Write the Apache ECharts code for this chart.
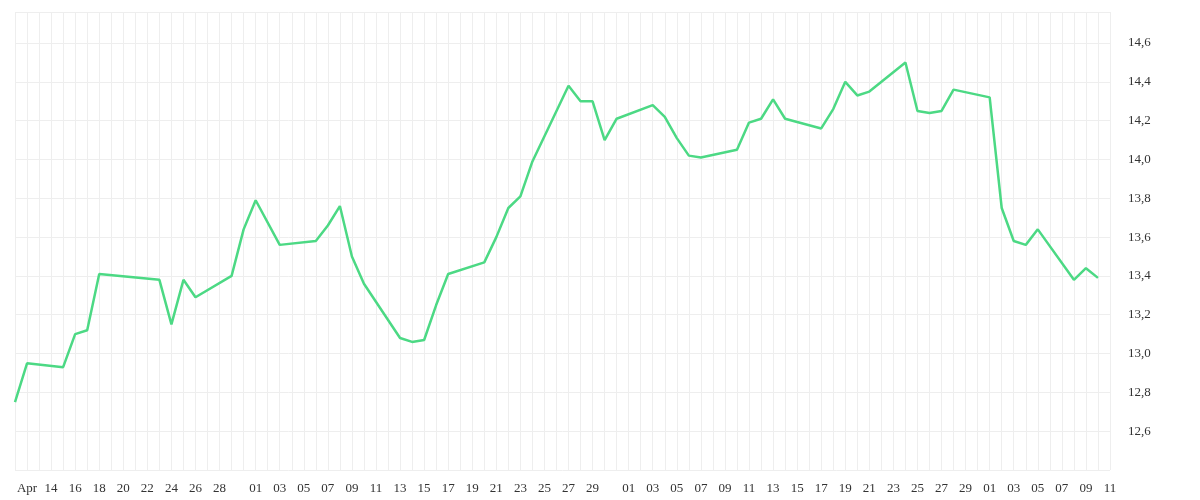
<!DOCTYPE html>
<html><head><meta charset="utf-8">
<script src="https://cdn.jsdelivr.net/npm/echarts@6/dist/echarts.min.js"></script>
<style>html,body{margin:0;background:#fff}#c{width:1200px;height:500px}</style>
</head><body><div id="c"></div>
<script>
// day indices from 11 Apr and values
const pointDays = [0,1,4,5,6,7,12,13,14,15,18,19,20,22,25,26,27,28,29,32,33,34,35,36,39,40,41,42,43,46,47,48,49,50,53,54,55,56,57,60,61,62,63,64,67,68,69,70,71,74,75,76,77,78,81,82,83,84,85,88,89,90];
const pointValues = [12.75,12.95,12.93,13.10,13.12,13.41,13.38,13.15,13.38,13.29,13.40,13.64,13.79,13.56,13.58,13.66,13.76,13.50,13.36,13.08,13.06,13.07,13.25,13.41,13.47,13.60,13.75,13.81,13.99,14.38,14.30,14.30,14.10,14.21,14.28,14.22,14.11,14.02,14.01,14.05,14.19,14.21,14.31,14.21,14.16,14.26,14.40,14.33,14.35,14.50,14.25,14.24,14.25,14.36,14.32,13.75,13.58,13.56,13.64,13.38,13.44,13.39];
const startDate = new Date(2022,3,11);
const nDays = 92;
const categories = [];
for (let i=0;i<nDays;i++){const d=new Date(startDate);d.setDate(d.getDate()+i);categories.push(d);}
const values = new Array(nDays).fill(null);
pointDays.forEach((d,i)=>values[d]=pointValues[i]);
function showLabel(i){
  const d=categories[i], day=d.getDate(), m=d.getMonth();
  if(i===0||i===1) return true;
  if(m===3) return day%2===0 && day<30;
  if(m===4) return day%2===1 && day<31;
  return day%2===1;
}
const chart = echarts.init(document.getElementById('c'));
chart.setOption({
  animation:false,
  grid:{left:15,right:90,top:12,bottom:30},
  xAxis:{type:'category',data:categories.map((d,i)=>i),boundaryGap:false,
    axisLine:{show:false},axisTick:{show:false},
    splitLine:{show:true,interval:0,lineStyle:{color:'#eeeeee'}},
    axisLabel:{interval:(i)=>showLabel(i),fontFamily:'Liberation Serif',fontSize:13,color:'#333',margin:12,
      formatter:(v,i)=>{const d=categories[i]; if(i===1) return 'Apr'; return String(d.getDate()).padStart(2,'0');}}},
  yAxis:{type:'value',position:'right',min:12.4,max:14.76,interval:0.2,
    axisLine:{show:false},axisTick:{show:false},
    splitLine:{lineStyle:{color:'#eeeeee'}},
    axisLabel:{showMinLabel:false,showMaxLabel:false,fontFamily:'Liberation Serif',fontSize:13,color:'#333',margin:18,
      formatter:v=>v.toFixed(1).replace('.',',')}},
  series:[{type:'line',data:values,connectNulls:true,showSymbol:false,
    lineStyle:{color:'#4cd984',width:2.5},itemStyle:{color:'#4cd984'}}]
});
</script></body></html>
